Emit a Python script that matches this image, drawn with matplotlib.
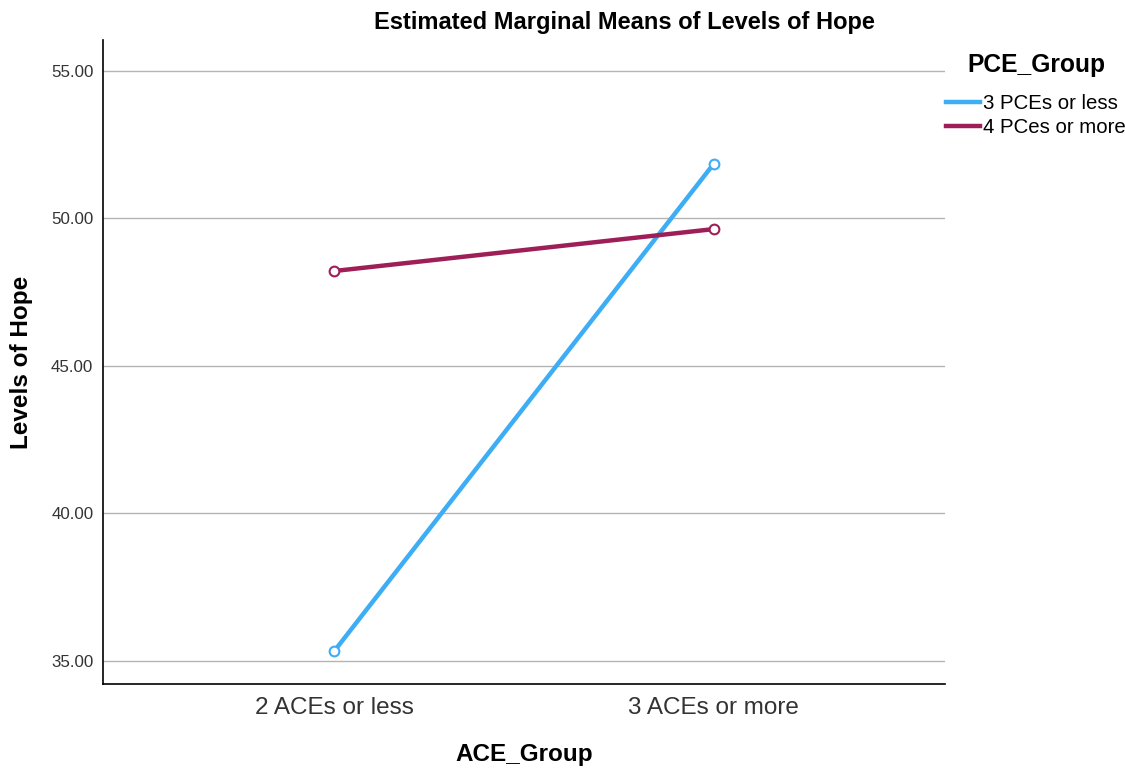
import numpy as np
import matplotlib.pyplot as plt

plt.rcParams['font.family'] = ['Liberation Sans', 'DejaVu Sans']

ace_groups = ['2 ACEs or less', '3 ACEs or more']
pce_groups = ['3 PCEs or less', '4 PCes or more']
hope_low_pce = [35.34, 51.85]
hope_high_pce = [48.22, 49.64]
y_ticks = [35, 40, 45, 50, 55]

colors = ['#3DAEF5', '#9E1F57']

fig = plt.figure(figsize=(11.25, 7.69), dpi=100)
ax = fig.add_axes([103 / 1125, 1 - 684 / 769, 842 / 1125, 644 / 769])

x = np.arange(len(ace_groups))
for vals, lab, c in zip([hope_low_pce, hope_high_pce], pce_groups, colors):
    ax.plot(x, vals, color=c, lw=3.2, label=lab, zorder=3)
    ax.plot(x, vals, ls='none', marker='o', ms=7, mfc='white', mec=c, mew=1.5, zorder=4)

ax.set_xlim(-0.61, 1.61)
ax.set_ylim(34.22, 56.05)
ax.set_xticks(x)
ax.set_xticklabels(ace_groups, fontsize=17.5, color='#333333')
ax.set_yticks(y_ticks)
ax.set_yticklabels([f'{v:.2f}' for v in y_ticks], fontsize=12.2, color='#333333')
ax.tick_params(axis='x', length=0, pad=9)
ax.tick_params(axis='y', length=0, pad=7)
ax.yaxis.grid(True, color='#b4b4b4', lw=1)
ax.set_axisbelow(True)
for s in ['top', 'right']:
    ax.spines[s].set_visible(False)
for s in ['left', 'bottom']:
    ax.spines[s].set_linewidth(1.2)

fig.text(524 / 1125, 1 - 755 / 769, 'ACE_Group', ha='center', va='center',
         fontsize=17.5, fontweight='bold')
fig.text(22 / 1125, 1 - 362 / 769, 'Levels of Hope', ha='center', va='center',
         rotation=90, fontsize=17.5, fontweight='bold')
fig.text(624 / 1125, 1 - 22 / 769, 'Estimated Marginal Means of Levels of Hope',
         ha='center', va='center', fontsize=17, fontweight='bold')

handles = [plt.Line2D([], [], color=c, lw=3.2) for c in colors]
leg = fig.legend(handles, pce_groups, loc='upper left', bbox_to_anchor=(946 / 1125, 1 - 53 / 769),
                 frameon=False, fontsize=14.7, title='PCE_Group', handlelength=1.67,
                 handletextpad=0.15, labelspacing=0.25, borderaxespad=0, borderpad=0)
leg.get_title().set_fontweight('bold')
leg.get_title().set_fontsize(17.7)
leg._legend_box.sep = 12

fig.savefig('out.png', dpi=100)
